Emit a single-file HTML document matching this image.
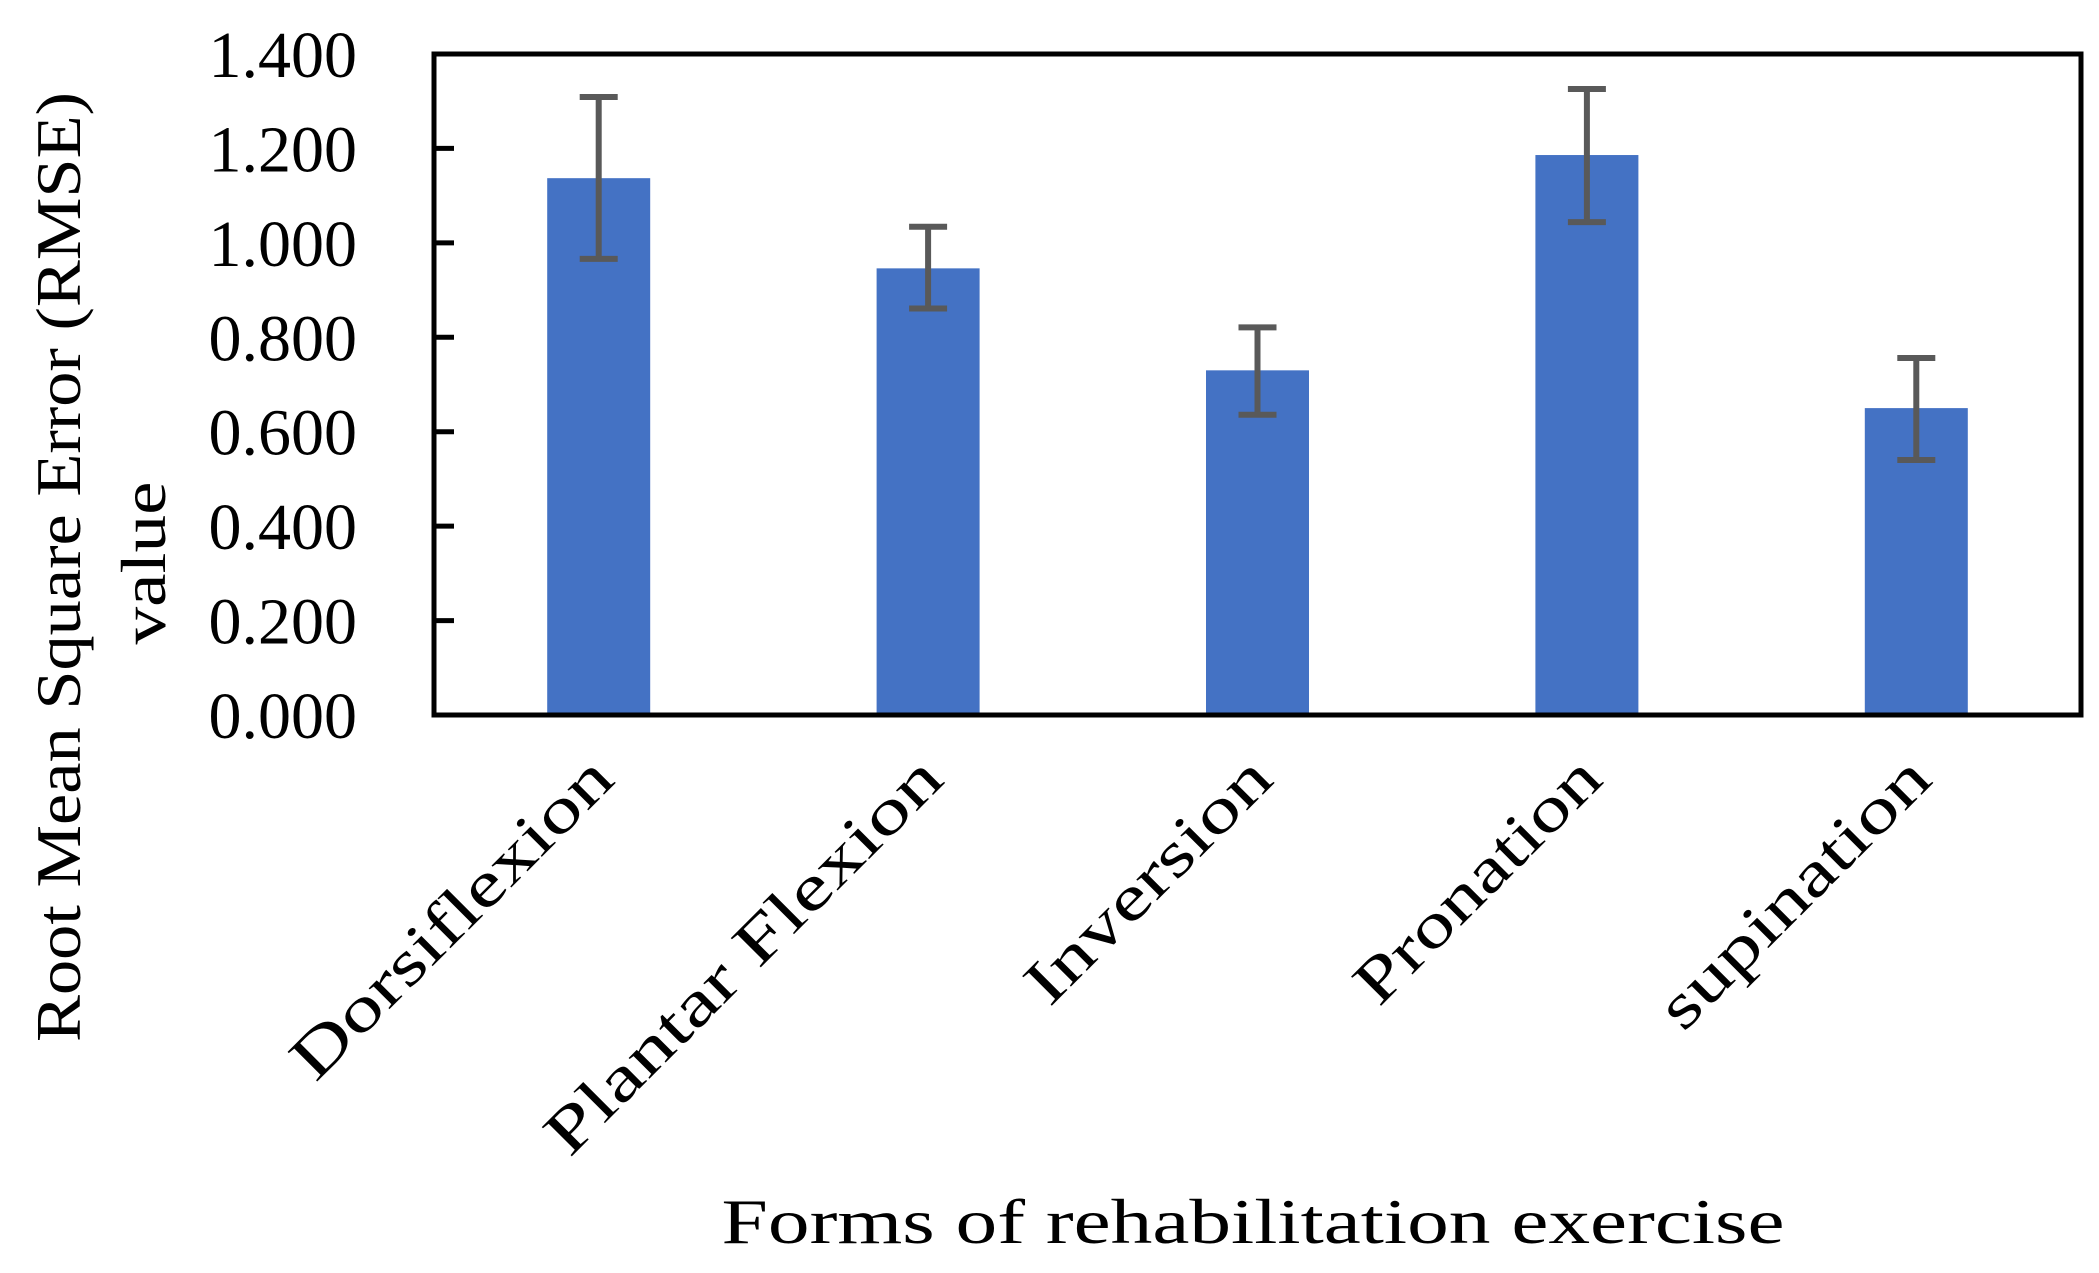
<!DOCTYPE html>
<html><head><meta charset="utf-8"><style>
html,body{margin:0;padding:0;background:#fff;}
svg{display:block;}
text{fill:#000;}
</style></head><body>
<svg id="chart" width="2099" height="1273" xmlns="http://www.w3.org/2000/svg">
<rect x="0" y="0" width="2099" height="1273" fill="#fff"/>
<g id="plot"></g>
<text transform="translate(80,567) rotate(-90)" text-anchor="middle" font-family="'Liberation Serif','Noto Serif CJK SC',serif" font-size="64" textLength="950" lengthAdjust="spacingAndGlyphs">Root Mean Square Error (RMSE)</text>
<text transform="translate(165,563) rotate(-90)" text-anchor="middle" font-family="'Liberation Serif',serif" font-size="64" textLength="163" lengthAdjust="spacingAndGlyphs">value</text>
<text x="1253" y="1243" text-anchor="middle" font-family="'Liberation Serif',serif" font-size="64" textLength="1063" lengthAdjust="spacingAndGlyphs">Forms of rehabilitation exercise</text>
</svg>
<script>
const categories = ["Dorsiflexion","Plantar Flexion","Inversion","Pronation","supination"];
const values = [1.137, 0.946, 0.730, 1.186, 0.650];
const errUpper = [1.309, 1.034, 0.821, 1.326, 0.756];
const errLower = [0.966, 0.861, 0.636, 1.044, 0.540];
const yTicks = [0, 0.2, 0.4, 0.6, 0.8, 1.0, 1.2, 1.4];
const yTickLabels = ["0.000","0.200","0.400","0.600","0.800","1.000","1.200","1.400"];

const NS = "http://www.w3.org/2000/svg";
const L = 434, R = 2081, T = 54, B = 715, yMax = 1.4;
const y = v => B - (v / yMax) * (B - T);
const band = (R - L) / categories.length;
const xc = i => L + band * (i + 0.5);
const g = document.getElementById('plot');
function mk(tag, attrs){const e=document.createElementNS(NS,tag);for(const k in attrs)e.setAttribute(k,attrs[k]);g.appendChild(e);return e;}

categories.forEach((c,i)=>{
  const bar = mk('rect',{x:xc(i)-51.5,y:y(values[i]),width:103,height:B-y(values[i]),fill:'#4472C4'});
  
  
  const eb = mk('path',{d:`M${xc(i)},${y(errUpper[i])}V${y(errLower[i])}M${xc(i)-19},${y(errUpper[i])}H${xc(i)+19}M${xc(i)-19},${y(errLower[i])}H${xc(i)+19}`,stroke:'#595959','stroke-width':6,fill:'none'});
  
  
  const t = mk('text',{transform:`translate(${xc(i)+18},${782}) rotate(-45)`,'text-anchor':'end','font-family':"'Liberation Serif',serif",'font-size':64,textLength:35.5*c.length,lengthAdjust:'spacingAndGlyphs'});
  t.textContent = c;
  
  
});

const frame = mk('rect',{x:L,y:T,width:R-L,height:B-T,fill:'none',stroke:'#000','stroke-width':5});



yTicks.forEach((v,i)=>{
  if(v>0 && v<yMax){
    const tk = mk('line',{x1:L,x2:L+20,y1:y(v),y2:y(v),stroke:'#000','stroke-width':5});
    
    
  }
  const t = mk('text',{x:357,y:y(v)+23,'text-anchor':'end','font-family':"'Liberation Serif',serif",'font-size':66});
  t.textContent = yTickLabels[i];
  
  
});
</script>
</body></html>
